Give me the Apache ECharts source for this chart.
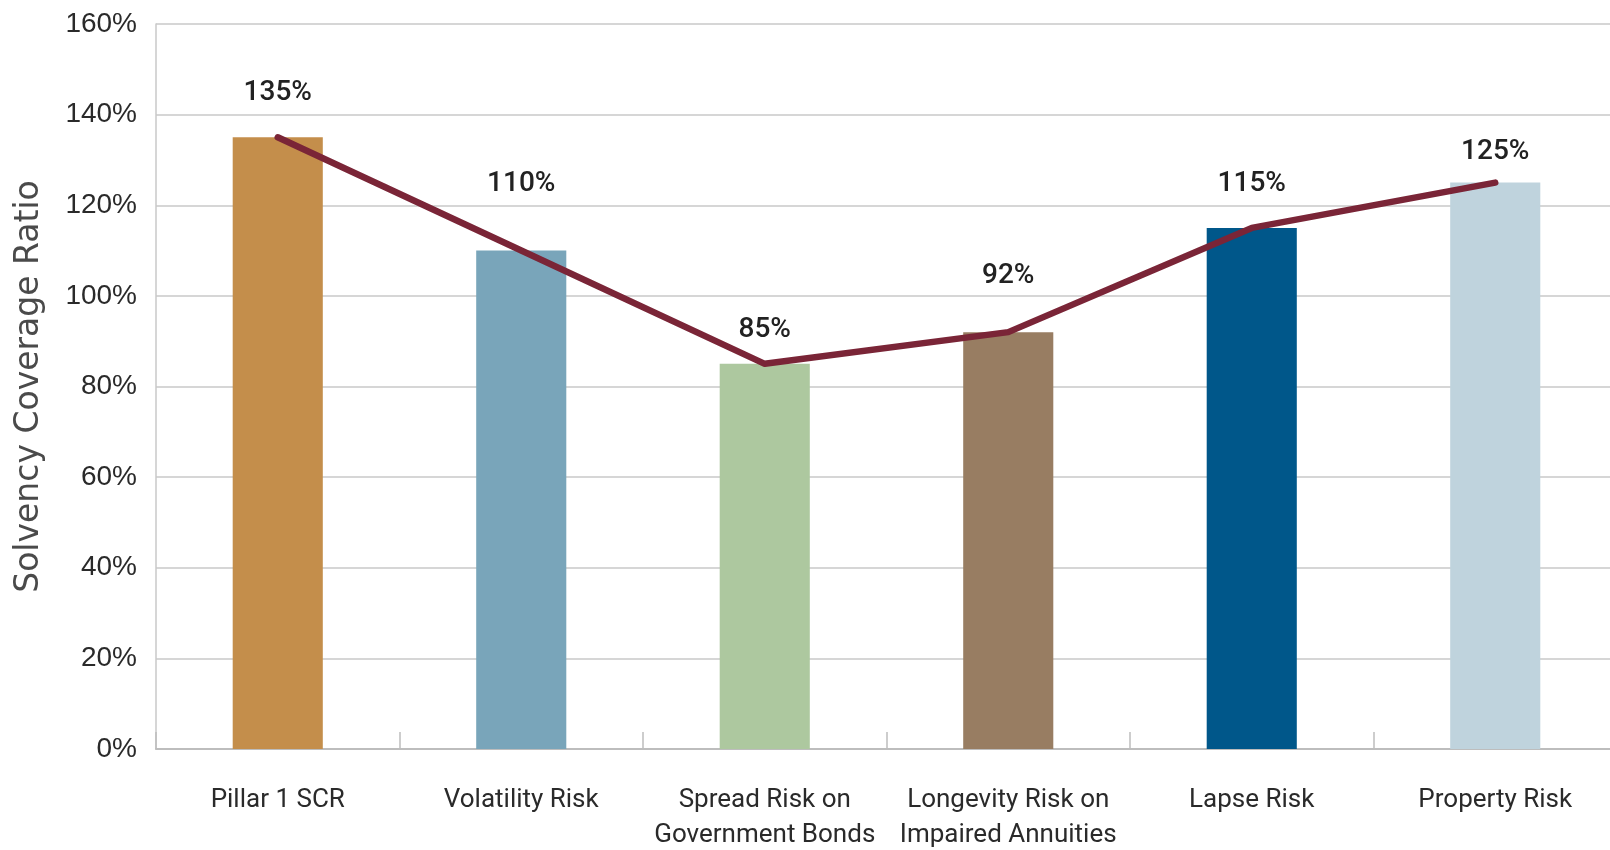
<!DOCTYPE html>
<html>
<head>
<meta charset="utf-8">
<script src="https://cdn.jsdelivr.net/npm/echarts@6/dist/echarts.min.js"></script>
<style>
html,body{margin:0;padding:0;background:#fff;}
#chart{width:1610px;height:850px;}
</style>
</head>
<body>
<div id="chart"></div>
<script>
const categories = ['Pillar 1 SCR', 'Volatility Risk', 'Spread Risk on\nGovernment Bonds', 'Longevity Risk on\nImpaired Annuities', 'Lapse Risk', 'Property Risk'];
const barValues = [135, 110, 85, 92, 115, 125];
const lineValues = [135, 110, 85, 92, 115, 125];
const yTicks = [0, 20, 40, 60, 80, 100, 120, 140, 160];
const barColors = ['#C48E4B', '#79A5BA', '#ADC89F', '#987D62', '#00578A', '#BFD3DD'];
const labelDistances = [30, 53, 20, 42, 30, 17];

const chart = echarts.init(document.getElementById('chart'), null, {renderer: 'canvas'});
chart.setOption({
  animation: false,
  backgroundColor: '#ffffff',
  grid: {left: 156, top: 24, width: 1461, height: 725, containLabel: false, outerBoundsMode: 'none'},
  xAxis: {
    type: 'category',
    data: categories,
    boundaryGap: true,
    axisLine: {show: true, lineStyle: {color: '#BDBDBD', width: 2}},
    axisTick: {show: true, inside: true, length: 17, interval: 0, lineStyle: {color: '#BDBDBD', width: 1.5}},
    axisLabel: {
      interval: 0, margin: 34,
      fontFamily: 'Roboto', fontSize: 26, lineHeight: 35, color: '#2a2a2a'
    },
    splitLine: {show: false}
  },
  yAxis: {
    type: 'value',
    min: yTicks[0], max: yTicks[yTicks.length - 1], interval: 20,
    name: 'Solvency Coverage Ratio',
    nameLocation: 'middle',
    nameGap: 110,
    nameRotate: 90,
    nameTextStyle: {fontFamily: 'DejaVu Sans', fontSize: 33, color: '#4a4a4a'},
    axisLine: {show: true, lineStyle: {color: '#C9C9C9', width: 1.5}},
    axisTick: {show: false},
    axisLabel: {margin: 19, fontFamily: 'Liberation Sans', fontSize: 28, color: '#2a2a2a', formatter: '{value}%'},
    splitLine: {show: true, lineStyle: {color: '#C9C9C9', width: 1.5}}
  },
  series: [
    {
      type: 'bar',
      barWidth: '37%',
      data: barValues.map((v, i) => ({
        value: v,
        itemStyle: {color: barColors[i]},
        label: {distance: labelDistances[i]}
      })),
      label: {
        show: true, position: 'top',
        fontFamily: 'Roboto', fontSize: 28, fontWeight: 500, color: '#222',
        formatter: '{c}%'
      },
      z: 2
    },
    {
      type: 'line',
      data: lineValues,
      symbol: 'none',
      lineStyle: {color: '#7A2537', width: 6.5, cap: 'round', join: 'round'},
      z: 3
    }
  ]
});
</script>
</body>
</html>
